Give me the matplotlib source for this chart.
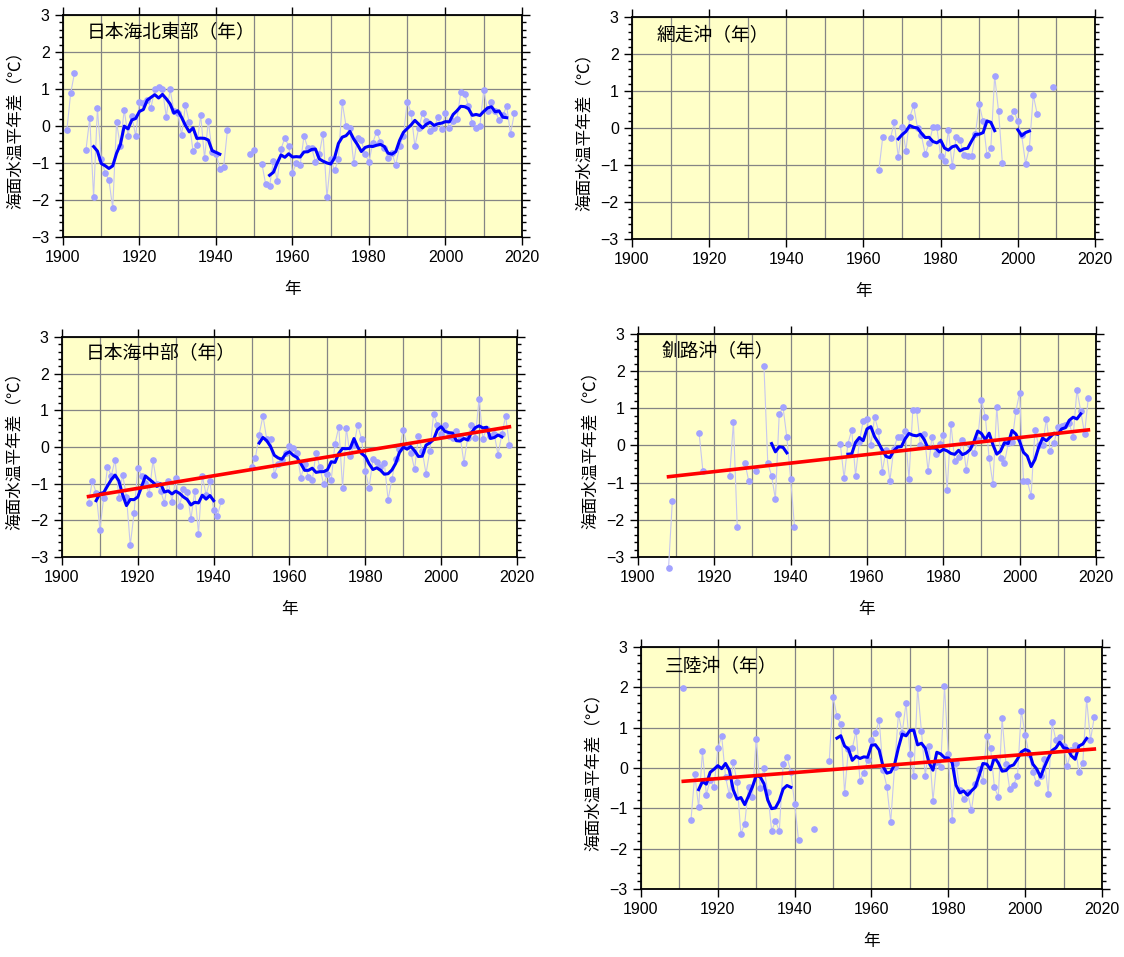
import numpy as np
import pandas as pd
import matplotlib
matplotlib.use('Agg')
import matplotlib.pyplot as plt
from matplotlib.ticker import MultipleLocator

plt.rcParams['font.family'] = ['Liberation Sans', 'Noto Sans CJK JP']

nan = np.nan

# 日本海北東部 1901-2018
ne_start = 1901
ne_vals = [-0.12, 0.88, 1.43, nan, nan, -0.65, 0.22, -1.93, 0.48, -0.90,
           -1.26, -1.46, -2.22, 0.10, -0.55, 0.44, -0.27, 0.26, -0.27, 0.66,
           0.63, 0.70, 0.50, 0.99, 1.05, 0.99, 0.25, 0.99, 0.40, 0.36,
           -0.25, 0.56, 0.10, -0.68, -0.52, 0.29, -0.87, 0.14, -0.71, -0.75,
           -1.15, -1.10, -0.10, nan, nan, nan, nan, nan, -0.75, -0.65,
           nan, -1.02, -1.58, -1.63, -0.95, -1.48, -0.62, -0.32, -0.54, -1.27,
           -1.00, -1.06, -0.27, -0.59, -0.59, -0.97, -0.75, -0.21, -1.93, -0.90,
           -1.20, -0.90, 0.64, 0.00, -0.05, -1.00, -0.32, -0.39, -0.77, -0.97,
           -0.45, -0.15, -0.43, -0.60, -0.86, -0.73, -1.06, -0.55, -0.27, 0.66,
           0.36, -0.55, -0.05, 0.34, 0.14, -0.14, -0.06, 0.23, -0.09, 0.36,
           -0.05, 0.14, 0.20, 0.91, 0.86, 0.55, 0.09, -0.06, 0.00, 0.98,
           0.41, 0.64, 0.41, 0.16, 0.30, 0.53, -0.21, 0.34]

# 網走沖 1964-2009
ab_start = 1964
ab_vals = [-1.13, -0.23, nan, -0.27, 0.16, -0.79, 0.03, -0.61, 0.30, 0.61,
           0.00, -0.20, -0.71, -0.41, 0.03, 0.03, -0.77, -0.89, -0.05, -1.04,
           -0.24, -0.32, -0.73, -0.76, -0.77, -0.16, 0.64, 0.18, -0.73, -0.55,
           1.41, 0.46, -0.95, nan, 0.27, 0.46, 0.18, -0.20, -0.96, -0.53,
           0.89, 0.39, nan, nan, nan, 1.12]

# 日本海中部 1907-2018
jc_start = 1907
jc_vals = [-1.52, -0.92, -1.25, -2.25, -1.38, -0.55, -0.78, -0.35, -1.39, -0.76,
           -1.35, -2.68, -1.81, -0.56, -0.78, -0.97, -1.28, -0.36, -1.00, -1.20,
           -1.52, -0.93, -1.49, -0.85, -1.61, -1.15, -1.22, -1.97, -1.20, -2.36,
           -0.79, -1.30, -0.93, -1.73, -1.87, -1.48, nan, nan, nan, nan,
           nan, nan, nan, -0.55, -0.31, 0.34, 0.85, 0.21, 0.21, -0.75,
           -0.45, -0.35, -0.15, 0.03, -0.02, -0.16, -0.84, -0.45, -0.82, -0.91,
           -0.16, -0.55, -1.02, -0.73, -0.90, 0.09, 0.55, -1.11, 0.52, -0.25,
           0.06, 0.60, 0.22, -0.66, -1.11, -0.34, -0.41, -0.55, -0.43, -1.44,
           -0.88, -0.34, -0.05, 0.47, 0.05, -0.15, -0.61, 0.30, -0.10, -0.73,
           -0.11, 0.89, 0.61, 0.36, 0.61, 0.30, 0.25, 0.44, 0.30, -0.43,
           0.25, 0.59, 0.25, 1.32, 0.23, 0.50, 0.30, 0.35, -0.21, 0.35,
           0.84, 0.05]
jc_trend_x = [1907, 2018]
jc_trend_y = [-1.35, 0.55]

# 釧路沖 1908-2018
ks_start = 1908
ks_vals = [-3.30, -1.49, nan, nan, nan, nan, nan, nan, 0.34, -0.68,
           nan, nan, nan, nan, nan, nan, -0.83, 0.63, -2.18, nan,
           -0.46, -0.95, nan, -0.69, nan, 2.14, -0.46, -0.82, -1.44, 0.84,
           1.03, 0.22, -0.90, -2.18, nan, nan, nan, nan, nan, nan,
           nan, nan, nan, nan, nan, 0.05, -0.88, 0.05, 0.42, -0.81,
           0.10, 0.66, 0.70, 0.00, 0.77, 0.40, -0.70, -0.12, -0.95, -0.10,
           0.23, 0.23, 0.39, -0.90, 0.95, 0.95, 0.00, 0.30, -0.69, 0.23,
           -0.23, 0.05, 0.28, -1.20, 0.58, -0.43, -0.30, 0.16, -0.66, 0.00,
           -0.21, 0.15, 1.22, 0.78, -0.34, -1.04, 1.04, -0.34, -0.48, 0.06,
           0.10, 0.92, 1.42, -0.95, -0.96, -1.35, 0.42, 0.00, 0.00, 0.72,
           -0.14, 0.06, 0.50, 0.52, 0.55, 0.60, 0.23, 1.49, 0.93, 0.32,
           1.29]
ks_trend_x = [1908, 2018]
ks_trend_y = [-0.84, 0.42]

# 三陸沖 1911-2018
sr_start = 1911
sr_vals = [1.98, nan, -1.30, -0.16, -0.97, 0.41, -0.66, -0.30, -0.48, 0.49,
           0.80, -0.22, -0.67, 0.16, -0.34, -1.63, -1.38, -0.47, -0.72, 0.73,
           -0.50, 0.00, -0.60, -1.56, -1.32, -1.56, 0.10, 0.28, -0.10, -0.89,
           -1.78, nan, nan, nan, -1.52, nan, nan, nan, 0.18, 1.77,
           1.29, 1.09, -0.63, 0.48, 0.49, 0.92, -0.31, -0.12, 0.20, 0.69,
           0.86, 1.19, -0.05, -0.46, -1.34, 0.02, 1.33, 0.88, 1.62, 0.35,
           -0.19, 1.99, 0.91, -0.19, 0.55, -0.81, 0.16, 0.02, 2.03, 0.35,
           -1.28, 0.12, -0.55, -0.77, -0.60, -1.05, -0.40, -0.02, -0.31, 0.80,
           0.49, -0.48, -0.71, 1.23, 0.10, -0.53, -0.41, -0.19, 1.42, 0.82,
           0.35, -0.11, -0.38, -0.20, 0.22, -0.64, 1.13, 0.69, 0.77, 0.55,
           0.06, 0.45, 0.57, -0.11, 0.12, 1.70, 0.69, 1.27]
sr_trend_x = [1911, 2018]
sr_trend_y = [-0.33, 0.47]

W, H = 1124, 957
fig = plt.figure(figsize=(W / 100, H / 100), dpi=100)


def make_ax(l, t, r, b):
    return fig.add_axes([l / W, 1 - b / H, (r - l) / W, (b - t) / H])


def draw(ax, start, vals, title, tx=None, ty=None):
    yrs = np.arange(start, start + len(vals))
    s = pd.Series(vals, index=yrs, dtype=float)
    ax.set_facecolor('#ffffc8')
    ax.plot(yrs, s.values, color='#c6c6f0', lw=0.8, marker='o', ms=3.8,
            mfc='#a2a2ff', mec='#a2a2ff', clip_on=False, zorder=3)
    # 5年移動平均
    ax.plot(yrs, s.rolling(5, center=True).mean().values,
            color='#0000ff', lw=2.2, zorder=4)
    if tx is not None:
        ax.plot(tx, ty, color='#ff0000', lw=2.6, zorder=5)
    ax.set_xlim(1900, 2020)
    ax.set_ylim(-3, 3)
    ax.xaxis.set_major_locator(MultipleLocator(20))
    ax.xaxis.set_minor_locator(MultipleLocator(10))
    ax.yaxis.set_major_locator(MultipleLocator(1))
    ax.yaxis.set_minor_locator(MultipleLocator(0.2))
    ax.set_axisbelow(True)
    ax.grid(which='major', color='#858585', lw=0.9)
    ax.grid(which='minor', axis='x', color='#858585', lw=0.9)
    ax.tick_params(which='both', direction='out', top=True, right=True,
                   labelsize=11.5, width=1)
    ax.tick_params(which='major', length=6)
    ax.tick_params(axis='y', which='minor', length=3)
    ax.tick_params(axis='x', which='minor', length=0)
    for sp in ax.spines.values():
        sp.set_linewidth(1.3)
    ax.set_xlabel('年', fontsize=12, labelpad=12)
    ax.set_ylabel('海面水温平年差（℃）', fontsize=12, labelpad=6)
    ax.text(0.052, 0.92, title, transform=ax.transAxes, fontsize=13.5,
            va='center', ha='left', zorder=6)


ax1 = make_ax(63, 15, 522, 237)
draw(ax1, ne_start, ne_vals, '日本海北東部（年）')

ax2 = make_ax(632, 17, 1095, 239)
draw(ax2, ab_start, ab_vals, '網走沖（年）')

ax3 = make_ax(62, 337, 517, 557)
draw(ax3, jc_start, jc_vals, '日本海中部（年）', jc_trend_x, jc_trend_y)

ax4 = make_ax(638, 334, 1096, 557)
draw(ax4, ks_start, ks_vals, '釧路沖（年）', ks_trend_x, ks_trend_y)

ax5 = make_ax(641, 647, 1102, 889)
draw(ax5, sr_start, sr_vals, '三陸沖（年）', sr_trend_x, sr_trend_y)

fig.savefig('out.png', dpi=100)
